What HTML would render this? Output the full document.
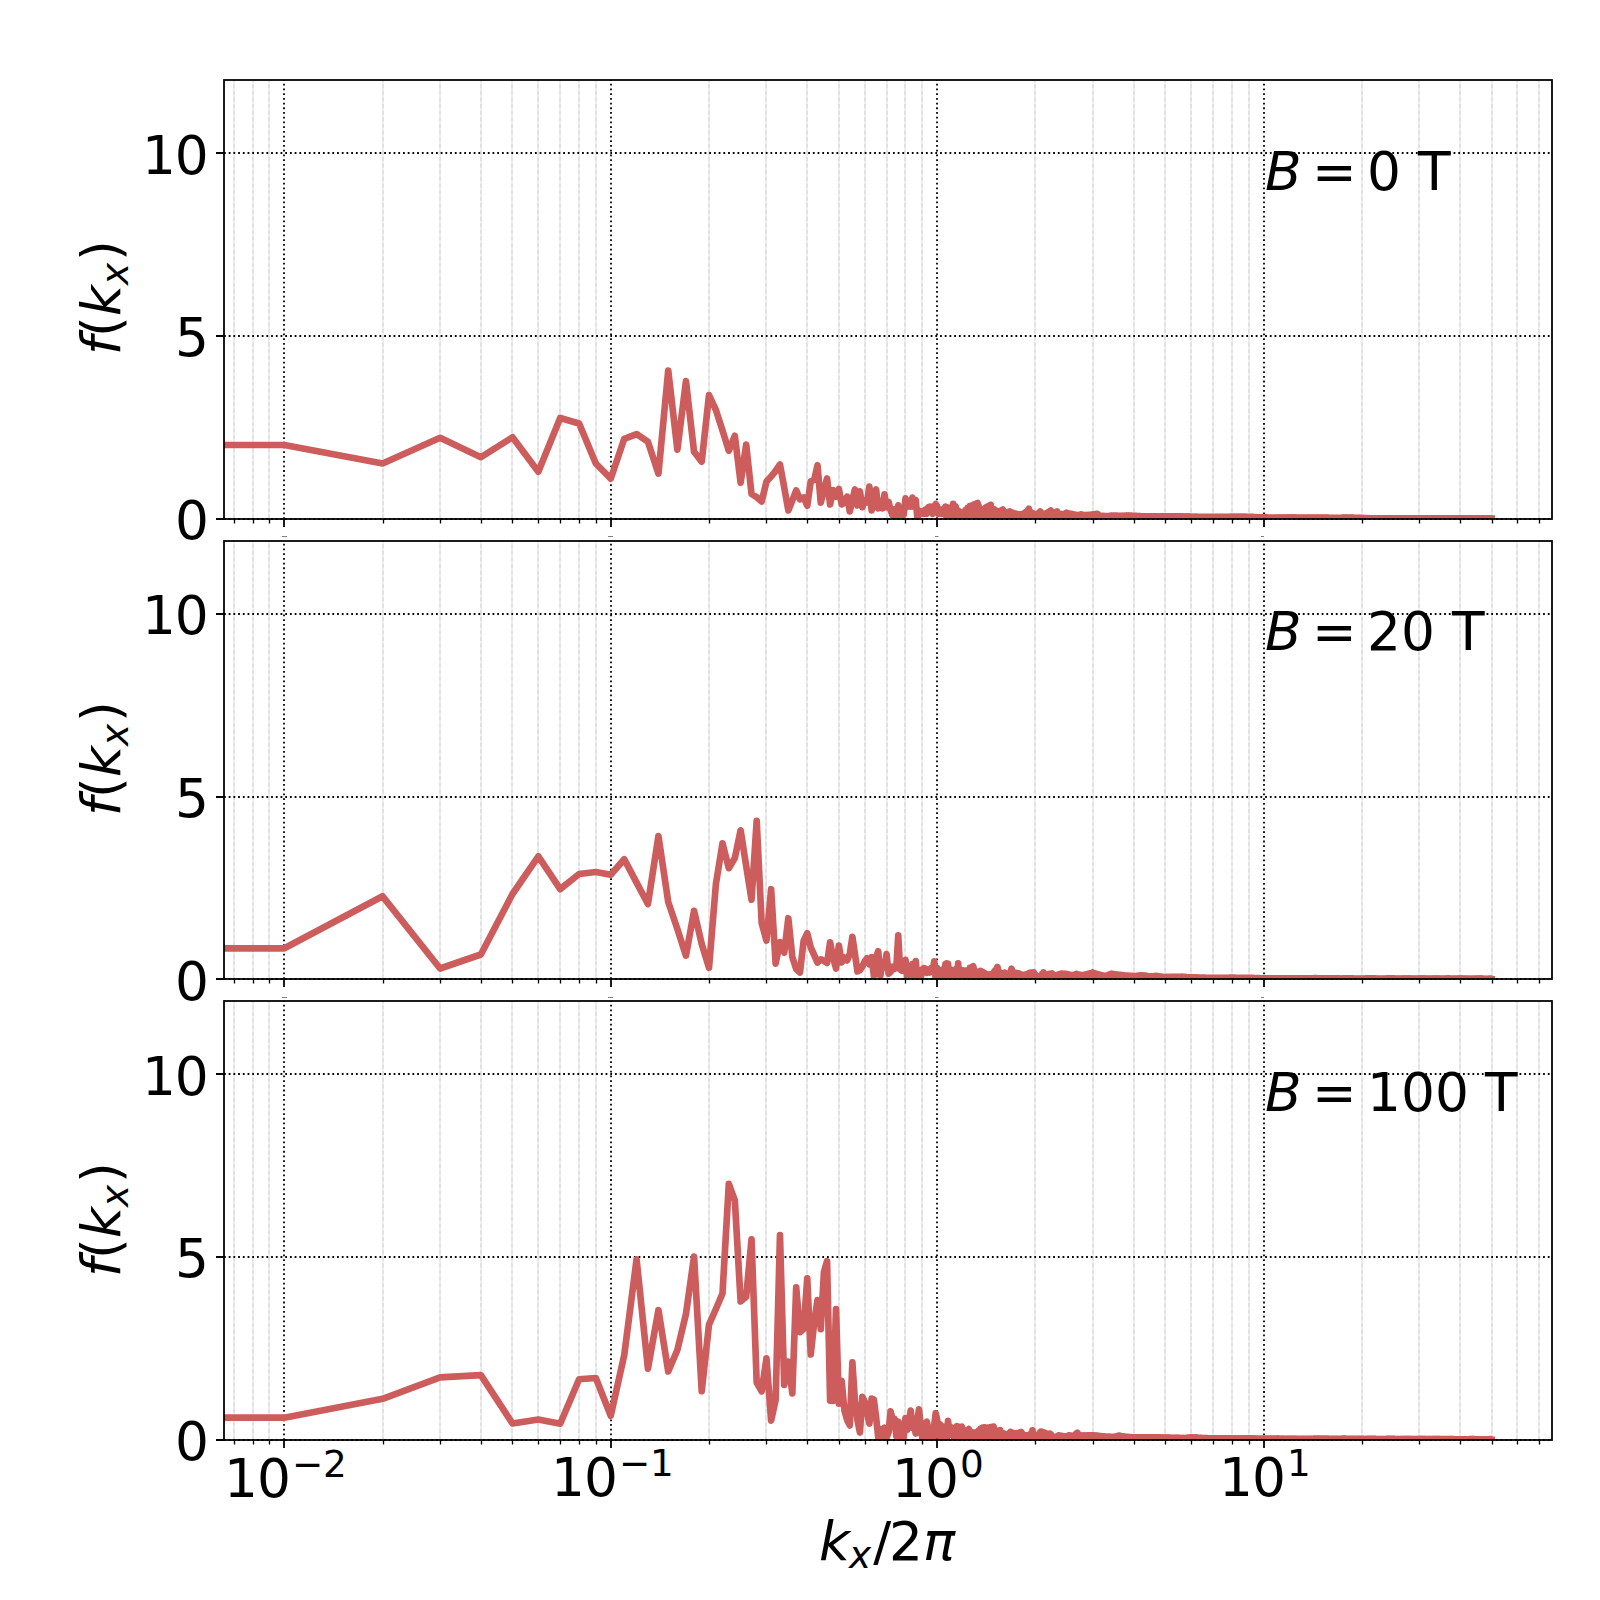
<!DOCTYPE html>
<html lang="en"><head><meta charset="utf-8"><title>f(k_x) spectra</title>
<style>
html,body{margin:0;padding:0;background:#fff}
body{width:1600px;height:1600px;overflow:hidden}
svg{display:block}
text{font-family:"DejaVu Sans","Liberation Sans",sans-serif;fill:#000;white-space:pre}
.t{font-size:53.333px}
.s{font-size:37.333px}
.i{font-style:oblique}
.sp{fill:none;stroke:#000;stroke-width:1.778;stroke-linecap:square;stroke-linejoin:miter}
.mj{fill:none;stroke:#000;stroke-width:1.778;stroke-dasharray:1.778 2.933}
.mn{fill:none;stroke:#e0e0e0;stroke-width:1.778;stroke-dasharray:4.1 2.52;stroke-dashoffset:6.2}
.tk{fill:none;stroke:#000;stroke-width:1.778}
.tm{fill:none;stroke:#000;stroke-width:1.333}
.cv{fill:none;stroke:#cd5c5c;stroke-width:6.667;stroke-linejoin:round;stroke-linecap:square}
.tiny{fill:#808080;stroke:none}
.mu{fill:none;stroke:#eeeeee;stroke-width:1.778}
</style></head>
<body>
<svg width="1600" height="1600" viewBox="0 0 1600 1600">
<rect width="1600" height="1600" fill="#fff"/>
<defs>
<clipPath id="c0"><rect x="224" y="80" width="1328" height="438.71"/></clipPath>
<clipPath id="c1"><rect x="224" y="540.65" width="1328" height="438.71"/></clipPath>
<clipPath id="c2"><rect x="224" y="1001.29" width="1328" height="438.71"/></clipPath>
</defs>
<g id="panel0">
<path class="mu" d="M234 519V80M253 519V80M269 519V80M383 519V80M440 519V80M481 519V80M512 519V80M538 519V80M560 519V80M579 519V80M596 519V80M709 519V80M766 519V80M807 519V80M839 519V80M865 519V80M887 519V80M905 519V80M922 519V80M1035 519V80M1093 519V80M1134 519V80M1165 519V80M1191 519V80M1213 519V80M1232 519V80M1249 519V80M1362 519V80M1419 519V80M1460 519V80M1492 519V80M1517 519V80M1539 519V80"/>
<path class="mn" d="M234 519V80M253 519V80M269 519V80M383 519V80M440 519V80M481 519V80M512 519V80M538 519V80M560 519V80M579 519V80M596 519V80M709 519V80M766 519V80M807 519V80M839 519V80M865 519V80M887 519V80M905 519V80M922 519V80M1035 519V80M1093 519V80M1134 519V80M1165 519V80M1191 519V80M1213 519V80M1232 519V80M1249 519V80M1362 519V80M1419 519V80M1460 519V80M1492 519V80M1517 519V80M1539 519V80"/>
<path class="mj" d="M284 519V80M611 519V80M937 519V80M1264 519V80M224 519H1552M224 336H1552M224 153H1552"/>
<path class="tk" d="M284 519V527M611 519V527M937 519V527M1264 519V527M224 519H216M224 336H216M224 153H216"/>
<path class="tm" d="M234.5 519V523.5M253.5 519V523.5M269.5 519V523.5M383.5 519V523.5M440.5 519V523.5M481.5 519V523.5M512.5 519V523.5M538.5 519V523.5M560.5 519V523.5M579.5 519V523.5M596.5 519V523.5M709.5 519V523.5M766.5 519V523.5M807.5 519V523.5M839.5 519V523.5M865.5 519V523.5M887.5 519V523.5M905.5 519V523.5M922.5 519V523.5M1035.5 519V523.5M1093.5 519V523.5M1134.5 519V523.5M1165.5 519V523.5M1191.5 519V523.5M1213.5 519V523.5M1232.5 519V523.5M1249.5 519V523.5M1362.5 519V523.5M1419.5 519V523.5M1460.5 519V523.5M1492.5 519V523.5M1517.5 519V523.5M1539.5 519V523.5"/>
<path class="cv" clip-path="url(#c0)" d="M214 445L284.36 445L382.61 463.5L440.09 437.8L480.86 457.2L512.49 437.3L538.34 471.7L560.19 418L579.11 423.5L595.81 463.5L610.74 478.7L624.25 438.8L636.59 434.1L647.93 441.8L658.44 473.7L668.22 370.5L677.37 449.6L685.96 381.1L694.06 451.8L701.72 461.7L708.99 395.1L715.91 410L722.5 430.5L728.81 450.7L734.84 435.8L740.62 482.7L746.18 444.5L751.53 494L756.69 497.2L761.66 501.5L766.47 481.6L771.12 476.6L775.62 470.9L779.98 464.5L784.21 487.4L788.32 510.4L792.31 500.4L796.19 490.4L799.97 499.4L803.66 497.4L807.25 505.7L810.75 481.3L814.16 480L817.5 465.2L820.76 502.6L823.94 490.6L827.06 478.4L830.1 504.5L833.09 490.1L836.01 496.7L838.87 488.9L841.68 504.4L844.43 502.5L847.13 496.6L849.78 511.4L852.38 500L854.94 489.4L857.45 505.4L859.91 491.4L862.34 507.2L864.72 500.9L867.06 502.2L869.37 486.6L871.63 510.4L873.87 498L876.06 489.4L878.23 508.4L880.36 501.4L882.46 508.4L884.53 494.3L886.57 507.3L888.58 501.9L890.56 510L892.52 515.5L894.44 509.5L896.35 515.5L898.23 505.4L900.08 515L901.91 508L903.71 515L905.5 498.4L907.26 506.65L909 501L910.71 506.65L912.41 497.6L914.09 506.65L915.75 500L917.39 518L919.01 510.85L920.61 513.58L922.19 511.32L923.76 513.64L925.31 509.8L926.84 513.7L928.35 507.1L929.85 506.58L931.34 506.73L932.81 513.82L934.26 506.33L935.7 504.08L937.13 506.2L938.54 513.87L939.93 509.66L941.32 513.87L942.68 509.38L944.04 513.87L945.38 506.58L946.72 518.66L948.03 507.44L949.34 518.66L950.63 507.57L951.92 518.66L953.19 503.83L954.45 518.66L955.7 506.31L956.94 518.66L958.16 510.19L959.38 518.66L960.59 512.46L961.78 518.66L962.97 512.24L964.14 518.66L965.31 510.3L966.47 518.66L967.62 507.87L968.75 518.66L969.88 506.18L971 518.66L972.12 505.24L973.22 518.66L974.31 504.34L975.4 518.66L976.48 503.45L977.55 503.03L978.61 506.15L979.66 518.66L980.71 509.13L981.75 518.66L982.78 509.5L983.8 518.66L984.82 508.45L985.83 518.66L986.83 506.81L987.82 518.66L988.81 505.91L989.79 518.66L990.77 504.93L991.73 518.66L992.7 508.62L993.65 518.66L994.6 509.31L995.54 518.66L996.48 510.91L997.4 518.66L998.33 511.41L999.25 518.66L1000.16 510.91L1001.06 518.66L1001.96 510.12L1002.86 509.53L1003.75 511.61L1004.63 518.66L1005.51 512.53L1006.38 518.66L1007.25 512.38L1008.11 518.66L1008.96 511.76L1009.82 511.43L1010.66 512.03L1011.5 518.66L1012.34 512.61L1013.17 518.66L1014 513.16L1014.82 518.66L1015.64 513.64L1016.45 518.66L1017.26 514.12L1018.06 518.66L1018.86 514.29L1019.65 518.66L1020.44 514.4L1021.23 518.66L1022.01 514.31L1022.78 518.66L1023.56 513.54L1024.32 518.66L1025.09 512.67L1025.85 518.66L1026.61 511.52L1027.36 518.66L1028.11 509.96L1028.85 508.63L1029.59 511.1L1030.33 518.66L1031.06 512.07L1031.79 518.66L1032.51 512.83L1033.23 518.66L1033.95 513.59L1034.67 518.66L1035.38 514.17L1036.08 518.66L1036.79 514.14L1037.49 518.66L1038.18 513.44L1038.88 518.66L1039.57 512.21L1040.25 511.43L1040.93 512.44L1041.61 518.66L1042.29 513.24L1042.96 518.66L1043.63 513.84L1044.3 518.66L1044.97 513.88L1045.63 518.66L1046.28 513.37L1046.94 518.66L1047.59 512.65L1048.24 518.66L1048.89 511.94L1049.53 518.66L1050.17 511.07L1050.81 510.53L1051.44 511.5L1052.07 518.66L1052.7 512.27L1053.33 518.66L1053.95 512.66L1054.57 518.66L1055.19 512.56L1055.8 518.66L1056.41 511.92L1057.02 511.43L1057.63 512.54L1058.23 518.66L1058.84 513.43L1059.44 518.66L1060.03 513.88L1060.63 518.66L1061.22 514.03L1061.81 518.66L1062.4 514.17L1062.98 518.66L1063.56 514.2L1064.14 518.66L1064.72 513.82L1065.29 518.66L1065.87 513.12L1066.44 512.73L1067.01 513.01L1067.57 518.66L1068.13 513.28L1068.7 518.66L1069.26 513.55L1069.81 518.66L1070.37 513.73L1070.92 518.66L1071.47 513.91L1072.02 518.66L1072.56 514.09L1073.11 518.66L1073.65 514.3L1074.19 518.66L1074.73 514.54L1075.26 518.66L1075.8 514.79L1076.33 518.66L1076.86 515.03L1077.39 518.66L1077.91 515.23L1078.44 518.66L1078.96 515.12L1079.48 518.66L1080 514.79L1080.51 518.66L1081.03 514.23L1081.54 518.66L1082.05 514.65L1082.56 518.66L1083.07 514.97L1083.57 518.66L1084.08 515.22L1084.58 518.66L1085.08 515.2L1085.58 518.66L1086.07 515.14L1086.57 518.66L1087.06 515.08L1087.55 518.66L1088.04 515.02L1088.53 518.66L1089.02 514.96L1089.5 518.66L1089.98 514.89L1090.47 518.66L1090.95 514.77L1091.42 518.66L1091.9 514.65L1092.38 518.66L1092.85 514.53L1093.32 518.66L1093.79 514.42L1094.26 518.66L1094.73 514.3L1095.19 518.66L1095.66 514.19L1096.12 518.66L1096.58 514.07L1097.04 518.66L1097.5 513.93L1097.95 518.66L1098.41 514.78L1098.86 518.66L1099.31 515.26L1099.76 518.66L1100.21 515.66L1101.11 515.83L1101.55 518.66L1102.44 518.66L1102.88 515.91L1103.76 515.95L1104.19 518.66L1105.06 518.66L1105.5 516.02L1106.36 516.06L1106.79 518.66L1107.64 518.66L1108.07 516.13L1109.33 518.66L1109.75 515.87L1110.17 518.66L1110.59 515.71L1111.42 515.53L1111.83 518.66L1112.66 518.66L1113.07 515.59L1113.89 515.62L1114.29 518.66L1115.1 518.66L1115.51 515.67L1116.31 515.7L1116.71 518.66L1117.51 518.66L1117.9 515.75L1118.69 515.77L1119.08 518.66L1119.87 518.66L1120.26 515.82L1121.42 518.66L1121.81 515.8L1122.19 518.66L1122.58 515.78L1123.72 518.66L1124.1 515.74L1124.48 518.66L1124.86 515.72L1125.98 518.66L1126.36 515.68L1126.73 518.66L1127.1 515.66L1128.21 518.66L1128.58 515.62L1128.94 518.66L1129.31 515.6L1130.04 515.58L1130.4 518.66L1131.12 518.66L1131.48 515.67L1132.2 515.71L1132.56 518.66L1133.27 518.66L1133.63 515.79L1134.33 515.83L1134.69 518.66L1135.39 518.66L1135.74 515.91L1136.43 515.95L1136.78 518.66L1137.47 518.66L1137.82 516.03L1138.5 516.07L1138.84 518.66L1139.53 518.66L1139.87 516.15L1140.54 516.19L1140.88 518.66L1141.55 518.66L1141.89 516.26L1142.55 516.3L1142.88 518.66L1143.55 518.66L1143.88 516.37L1144.53 516.41L1144.86 518.66L1145.52 518.66L1145.84 516.43L1146.49 516.43L1146.81 518.66L1147.46 518.66L1147.78 516.43L1148.42 516.43L1148.74 518.66L1149.37 518.66L1149.69 516.43L1150.32 516.43L1150.64 518.66L1151.26 518.66L1151.58 516.43L1152.2 516.43L1152.51 518.66L1153.13 518.66L1153.44 516.43L1154.05 516.43L1154.36 518.66L1154.97 518.66L1155.27 516.43L1155.88 516.43L1156.18 518.66L1156.79 518.66L1157.09 516.43L1157.98 518.66L1158.28 516.43L1159.17 518.66L1159.47 516.43L1160.35 518.66L1160.65 516.43L1161.52 518.66L1161.81 516.43L1162.68 518.66L1162.97 516.43L1163.83 518.66L1164.12 516.43L1164.97 518.66L1165.26 516.43L1166.1 518.66L1166.39 516.43L1167.23 518.66L1167.51 516.43L1168.34 518.66L1168.62 516.43L1169.45 518.66L1169.72 516.43L1170.54 518.66L1170.81 516.43L1171.63 518.66L1171.9 516.43L1172.71 518.66L1172.98 516.43L1173.78 518.66L1174.05 516.43L1174.85 518.66L1175.11 516.43L1175.9 518.66L1176.16 516.43L1176.95 518.66L1177.21 516.43L1177.99 518.66L1178.25 516.43L1179.02 518.66L1179.28 516.43L1180.05 518.66L1180.3 516.43L1181.07 518.66L1181.32 516.43L1182.08 518.66L1182.33 516.44L1183.08 518.66L1183.33 516.48L1184.08 518.66L1184.32 516.51L1185.07 518.66L1185.31 516.54L1186.05 518.66L1186.29 516.57L1187.02 518.66L1187.27 516.6L1187.99 518.66L1188.24 516.63L1188.96 518.66L1189.2 516.66L1189.91 518.66L1190.15 516.69L1190.86 518.66L1191.1 516.71L1191.81 518.66L1192.04 516.74L1192.74 518.66L1192.98 516.77L1193.67 518.66L1193.91 516.8L1194.6 518.66L1194.83 516.83L1195.52 518.66L1195.75 516.83L1196.43 518.66L1196.66 516.83L1197.34 518.66L1197.56 516.83L1198.24 518.66L1198.46 516.83L1199.36 516.83L1199.58 518.66L1200.47 518.66L1200.69 516.83L1201.57 516.83L1201.79 518.66L1202.66 518.66L1202.88 516.83L1203.75 516.83L1203.96 518.66L1204.82 518.66L1205.04 516.83L1205.89 516.83L1206.1 518.66L1206.95 518.66L1207.16 516.83L1208 516.83L1208.21 518.66L1209.05 518.66L1209.26 516.83L1210.09 516.83L1210.29 518.66L1211.11 518.66L1211.32 516.83L1212.14 516.83L1212.34 518.66L1213.15 518.66L1213.35 516.83L1214.16 516.83L1214.36 518.66L1215.16 518.66L1215.36 516.83L1216.15 516.83L1216.35 518.66L1217.14 518.66L1217.34 516.83L1218.12 516.83L1218.31 518.66L1219.09 518.66L1219.29 516.83L1220.06 516.83L1220.25 518.66L1221.02 518.66L1221.21 516.83L1221.97 516.83L1222.16 518.66L1222.92 518.66L1223.11 516.83L1223.86 516.83L1224.05 518.66L1224.79 518.66L1224.98 516.83L1225.72 516.83L1225.91 518.66L1226.64 518.66L1226.83 516.83L1227.56 516.83L1227.74 518.66L1228.47 518.66L1228.65 516.83L1229.37 516.83L1229.55 518.66L1230.45 516.83L1230.63 518.66L1231.52 516.83L1231.7 518.66L1232.58 516.83L1232.76 518.66L1233.64 516.83L1233.81 518.66L1234.68 516.83L1234.86 518.66L1235.72 516.83L1235.89 518.66L1236.75 516.83L1236.92 518.66L1237.78 516.83L1237.95 518.66L1238.79 516.83L1238.96 518.66L1239.8 516.83L1239.97 518.66L1240.8 516.83L1240.97 518.66L1241.8 516.83L1241.96 518.66L1242.79 516.83L1242.95 518.66L1243.77 516.83L1243.93 518.66L1244.74 516.83L1244.9 518.66L1245.71 516.86L1245.87 518.66L1246.67 516.89L1246.83 518.66L1247.62 516.92L1247.78 518.66L1248.57 516.95L1248.73 518.66L1249.51 516.98L1249.67 518.66L1250.45 517.01L1250.6 518.66L1251.38 517.04L1251.53 518.66L1252.3 517.07L1252.46 518.66L1253.22 517.09L1253.37 518.66L1254.13 517.12L1254.28 518.66L1255.04 517.15L1255.19 518.66L1256.09 518.66L1256.24 517.19L1257.13 517.22L1257.28 518.66L1258.16 518.66L1258.31 517.26L1259.19 517.28L1259.33 518.66L1260.21 518.66L1260.35 517.32L1261.22 517.35L1261.36 518.66L1262.22 518.66L1262.37 517.38L1263.22 517.41L1263.36 518.66L1264.21 518.66L1264.35 517.44L1265.2 517.44L1265.34 518.66L1266.17 518.66L1266.31 517.45L1267.14 517.45L1267.28 518.66L1268.11 518.66L1268.25 517.46L1269.07 517.46L1269.2 518.66L1270.02 518.66L1270.15 517.47L1270.96 517.47L1271.1 518.66L1271.9 518.66L1272.03 517.48L1272.83 517.48L1272.96 518.66L1273.76 518.66L1273.89 517.49L1274.68 517.49L1274.81 518.66L1275.59 518.66L1275.72 517.5L1276.5 517.5L1276.63 518.66L1277.4 518.66L1277.53 517.51L1278.43 518.66L1278.55 517.51L1279.44 518.66L1279.57 517.52L1280.45 518.66L1280.58 517.52L1281.46 518.66L1281.58 517.53L1282.45 518.66L1282.58 517.53L1283.44 518.66L1283.56 517.54L1284.42 518.66L1284.54 517.54L1285.4 518.66L1285.52 517.55L1286.36 518.66L1286.49 517.55L1287.33 518.66L1287.45 517.56L1288.28 518.66L1288.4 517.56L1289.23 518.66L1289.35 517.57L1290.17 518.66L1290.29 517.57L1291.11 518.66L1291.23 517.58L1292.04 518.66L1292.16 517.58L1292.96 518.66L1293.08 517.59L1293.88 518.66L1294 517.59L1294.79 518.66L1294.91 517.6L1295.7 518.66L1295.81 517.6L1296.6 518.66L1296.71 517.61L1297.61 517.61L1297.72 518.66L1298.61 518.66L1298.72 517.62L1299.6 517.62L1299.71 518.66L1300.59 518.66L1300.69 517.63L1301.56 517.63L1301.67 518.66L1302.54 518.66L1302.64 517.64L1303.5 517.64L1303.61 518.66L1304.46 518.66L1304.57 517.65L1305.41 517.66L1305.52 518.66L1306.36 518.66L1306.46 517.66L1307.3 517.67L1307.4 518.66L1308.23 518.66L1308.34 517.67L1309.16 517.68L1309.26 518.66L1310.08 518.66L1310.18 517.68L1311 517.69L1311.1 518.66L1311.91 518.66L1312.01 517.69L1312.81 517.69L1312.91 518.66L1313.81 517.7L1313.91 518.66L1314.8 517.71L1314.9 518.66L1315.78 517.71L1315.88 518.66L1316.76 517.72L1316.86 518.66L1317.73 517.72L1317.83 518.66L1318.69 517.73L1318.79 518.66L1319.65 517.73L1319.74 518.66L1320.6 517.73L1320.7 518.66L1321.54 517.73L1321.64 518.66L1322.48 517.73L1322.58 518.66L1323.41 517.73L1323.51 518.66L1324.34 517.73L1324.43 518.66L1325.26 517.73L1325.35 518.66L1326.17 517.73L1326.27 518.66L1327.08 517.73L1327.17 518.66L1327.98 517.73L1328.07 518.66L1328.97 518.66L1329.06 517.73L1329.95 517.73L1330.04 518.66L1330.92 518.66L1331.01 517.73L1331.89 517.73L1331.98 518.66L1332.85 518.66L1332.93 517.73L1333.8 517.73L1333.89 518.66L1334.75 518.66L1334.83 517.73L1335.69 517.73L1335.77 518.66L1336.62 518.66L1336.7 517.73L1337.55 517.73L1337.63 518.66L1338.47 518.66L1338.55 517.73L1339.39 517.73L1339.47 518.66L1340.3 518.66L1340.38 517.73L1341.2 517.73L1341.28 518.66L1342.18 517.73L1342.26 518.66L1343.15 517.73L1343.23 518.66L1344.12 517.73L1344.2 518.66L1345.08 517.73L1345.16 518.66L1346.03 517.73L1346.11 518.66L1346.98 517.73L1347.06 518.66L1347.92 517.73L1348 518.66L1348.85 517.73L1348.93 518.66L1349.78 517.73L1349.86 518.66L1350.71 517.73L1350.78 518.66L1351.62 517.73L1351.7 518.66L1352.53 517.73L1352.61 518.66L1353.44 517.73L1353.51 518.66L1354.41 518.66L1354.49 517.73L1355.38 517.73L1355.45 518.66L1356.34 518.66L1356.41 517.73L1357.29 517.75L1357.37 518.66L1358.24 518.66L1358.31 517.8L1359.18 517.84L1359.25 518.66L1360.12 518.66L1360.19 517.88L1361.05 517.92L1361.12 518.66L1361.97 518.66L1362.04 517.97L1362.89 518.01L1362.96 518.66L1363.8 518.66L1363.87 518.05L1364.7 518.09L1364.77 518.66L1365.67 518.14L1365.74 518.66L1366.63 518.18L1366.7 518.66L1367.59 518.23L1367.66 518.66L1368.54 518.27L1368.6 518.66L1369.48 518.31L1369.55 518.66L1370.42 518.33L1370.48 518.66L1371.35 518.33L1371.41 518.66L1372.27 518.33L1372.34 518.66L1373.19 518.33L1373.25 518.66L1374.1 518.33L1374.17 518.66L1375.01 518.33L1375.07 518.66L1375.91 518.33L1375.97 518.66L1376.87 518.66L1376.93 518.33L1377.82 518.33L1377.88 518.66L1378.77 518.66L1378.83 518.33L1379.71 518.33L1379.77 518.66L1380.64 518.66L1380.7 518.33L1381.57 518.33L1381.63 518.66L1382.49 518.66L1382.55 518.33L1383.4 518.33L1383.46 518.66L1384.31 518.66L1384.37 518.33L1385.22 518.33L1385.28 518.66L1386.18 518.33L1386.23 518.66L1387.13 518.33L1387.19 518.66L1388.07 518.33L1388.13 518.66L1389.01 518.33L1389.07 518.66L1389.94 518.33L1390 518.66L1390.87 518.33L1390.93 518.66L1391.79 518.33L1391.85 518.66L1392.7 518.33L1392.76 518.66L1393.61 518.33L1393.67 518.66L1394.52 518.33L1394.57 518.66L1395.47 518.66L1395.52 518.33L1396.42 518.33L1396.47 518.66L1397.36 518.66L1397.41 518.33L1398.29 518.33L1398.34 518.66L1399.22 518.66L1399.27 518.33L1400.14 518.33L1400.19 518.66L1401.06 518.66L1401.11 518.33L1401.97 518.33L1402.02 518.66L1402.87 518.66L1402.92 518.33L1403.82 518.66L1403.87 518.33L1404.77 518.66L1404.82 518.33L1405.71 518.66L1405.76 518.33L1406.64 518.66L1406.69 518.33L1407.56 518.66L1407.62 518.33L1408.48 518.66L1408.54 518.33L1409.4 518.66L1409.45 518.33L1410.31 518.66L1410.36 518.33L1411.21 518.66L1411.26 518.33L1412.16 518.33L1412.21 518.66L1413.1 518.66L1413.15 518.33L1414.03 518.33L1414.08 518.66L1414.96 518.66L1415.01 518.33L1415.88 518.33L1415.93 518.66L1416.8 518.66L1416.85 518.33L1417.71 518.33L1417.76 518.66L1418.61 518.66L1418.66 518.33L1419.56 518.66L1419.61 518.33L1420.5 518.66L1420.55 518.33L1421.43 518.66L1421.48 518.33L1422.36 518.66L1422.41 518.33L1423.28 518.66L1423.33 518.33L1424.2 518.66L1424.24 518.33L1425.11 518.66L1425.15 518.33L1426.01 518.66L1426.05 518.33L1426.95 518.33L1427 518.66L1427.89 518.66L1427.93 518.33L1428.82 518.33L1428.86 518.66L1429.74 518.66L1429.79 518.33L1430.66 518.33L1430.71 518.66L1431.57 518.66L1431.62 518.33L1432.48 518.33L1432.52 518.66L1433.38 518.66L1433.42 518.33L1434.32 518.66L1434.36 518.33L1435.25 518.66L1435.29 518.33L1436.18 518.66L1436.22 518.33L1437.1 518.66L1437.14 518.33L1438.01 518.66L1438.05 518.33L1438.92 518.66L1438.96 518.33L1439.82 518.66L1439.86 518.33L1440.75 518.33L1440.8 518.66L1441.69 518.66L1441.73 518.33L1442.61 518.33L1442.65 518.66L1443.53 518.66L1443.57 518.33L1444.44 518.33L1444.48 518.66L1445.35 518.66L1445.39 518.33L1446.25 518.33L1446.29 518.66L1447.18 518.33L1447.22 518.66L1448.11 518.33L1448.15 518.66L1449.03 518.33L1449.07 518.66L1449.95 518.33L1449.99 518.66L1450.86 518.33L1450.9 518.66L1451.76 518.33L1451.8 518.66L1452.7 518.66L1452.74 518.33L1453.63 518.33L1453.67 518.66L1454.55 518.66L1454.59 518.33L1455.47 518.33L1455.51 518.66L1456.38 518.66L1456.42 518.33L1457.29 518.33L1457.32 518.66L1458.19 518.66L1458.22 518.33L1459.12 518.66L1459.15 518.33L1460.04 518.66L1460.08 518.33L1460.96 518.66L1461 518.33L1461.87 518.66L1461.91 518.33L1462.78 518.66L1462.81 518.33L1463.68 518.66L1463.71 518.33L1464.61 518.33L1464.64 518.66L1465.53 518.66L1465.57 518.33L1466.45 518.33L1466.48 518.66L1467.36 518.66L1467.39 518.33L1468.27 518.33L1468.3 518.66L1469.2 518.33L1469.23 518.66L1470.13 518.33L1470.16 518.66L1471.05 518.33L1471.08 518.66L1471.96 518.33L1471.99 518.66L1472.87 518.33L1472.9 518.66L1473.77 518.33L1473.81 518.66L1474.7 518.66L1474.74 518.33L1475.63 518.33L1475.66 518.66L1476.54 518.66L1476.58 518.33L1477.46 518.33L1477.49 518.66L1478.36 518.66L1478.39 518.33L1479.29 518.66L1479.32 518.33L1480.22 518.66L1480.25 518.33L1481.14 518.66L1481.17 518.33L1482.05 518.66L1482.08 518.33L1482.96 518.66L1482.99 518.33L1483.86 518.66L1483.89 518.33L1484.78 518.33L1484.81 518.66L1485.7 518.66L1485.73 518.33L1486.62 518.33L1486.65 518.66L1487.52 518.66L1487.55 518.33L1488.43 518.33L1488.45 518.66L1489.35 518.33L1489.38 518.66L1490.27 518.33L1490.3 518.66L1491.18 518.33L1491.21 518.66L1491.64 518.66"/>
<rect class="sp" x="224" y="80" width="1328" height="439"/>
<rect class="tiny" x="282" y="536" width="5" height="1"/>
<rect class="tiny" x="608" y="536" width="5" height="1"/>
<rect class="tiny" x="935" y="536" width="3.5" height="1"/>
<rect class="tiny" x="1261" y="536" width="3" height="1"/>
</g>
<g id="panel1">
<path class="mu" d="M234 979V541M253 979V541M269 979V541M383 979V541M440 979V541M481 979V541M512 979V541M538 979V541M560 979V541M579 979V541M596 979V541M709 979V541M766 979V541M807 979V541M839 979V541M865 979V541M887 979V541M905 979V541M922 979V541M1035 979V541M1093 979V541M1134 979V541M1165 979V541M1191 979V541M1213 979V541M1232 979V541M1249 979V541M1362 979V541M1419 979V541M1460 979V541M1492 979V541M1517 979V541M1539 979V541"/>
<path class="mn" d="M234 979V541M253 979V541M269 979V541M383 979V541M440 979V541M481 979V541M512 979V541M538 979V541M560 979V541M579 979V541M596 979V541M709 979V541M766 979V541M807 979V541M839 979V541M865 979V541M887 979V541M905 979V541M922 979V541M1035 979V541M1093 979V541M1134 979V541M1165 979V541M1191 979V541M1213 979V541M1232 979V541M1249 979V541M1362 979V541M1419 979V541M1460 979V541M1492 979V541M1517 979V541M1539 979V541"/>
<path class="mj" d="M284 979V541M611 979V541M937 979V541M1264 979V541M224 979H1552M224 797H1552M224 614H1552"/>
<path class="tk" d="M284 979V987M611 979V987M937 979V987M1264 979V987M224 979H216M224 797H216M224 614H216"/>
<path class="tm" d="M234.5 979V983.5M253.5 979V983.5M269.5 979V983.5M383.5 979V983.5M440.5 979V983.5M481.5 979V983.5M512.5 979V983.5M538.5 979V983.5M560.5 979V983.5M579.5 979V983.5M596.5 979V983.5M709.5 979V983.5M766.5 979V983.5M807.5 979V983.5M839.5 979V983.5M865.5 979V983.5M887.5 979V983.5M905.5 979V983.5M922.5 979V983.5M1035.5 979V983.5M1093.5 979V983.5M1134.5 979V983.5M1165.5 979V983.5M1191.5 979V983.5M1213.5 979V983.5M1232.5 979V983.5M1249.5 979V983.5M1362.5 979V983.5M1419.5 979V983.5M1460.5 979V983.5M1492.5 979V983.5M1517.5 979V983.5M1539.5 979V983.5"/>
<path class="cv" clip-path="url(#c1)" d="M214 948.3L284.36 948.3L382.61 896.3L440.09 968.5L480.86 954.5L512.49 894L538.34 856.3L560.19 889.2L579.11 874L595.81 872L610.74 874.7L624.25 859.3L636.59 882.6L647.93 904L658.44 836.1L668.22 902L677.37 929L685.96 955.7L694.06 910.8L701.72 944L708.99 967.9L715.91 884L722.5 843.3L728.81 868.2L734.84 858L740.62 830.3L746.18 866L751.53 899.75L756.69 820.8L761.66 923.1L766.47 940.5L771.12 889.2L775.62 963.6L779.98 942.1L784.21 952.6L788.32 918.2L792.31 956.9L796.19 969L799.97 972.4L803.66 940.6L807.25 933.3L810.75 947.5L814.16 955L817.5 962.6L820.76 959.3L823.94 960.9L827.06 962.9L830.1 942.3L833.09 957.5L836.01 968.5L838.87 945.5L841.68 962.4L844.43 957.6L847.13 960.4L849.78 954L852.38 936.85L854.94 954L857.45 971.4L859.91 970L862.34 966.5L864.72 961.35L867.06 958.35L869.37 964.4L871.63 957.25L873.87 976L876.06 957L878.23 951.25L880.36 976L882.46 962.35L884.53 967.5L886.57 954.1L888.58 973.65L890.56 972L892.52 966.6L894.44 969L896.35 967.5L898.23 935.35L900.08 969.5L901.91 970.65L903.71 967.5L905.5 959.85L907.26 979.3L909 965.83L910.71 979.3L912.41 964.04L914.09 979.3L915.75 961.08L917.39 979.3L919.01 970.21L920.61 979.3L922.19 969.53L923.76 968.08L925.31 968.71L926.84 972.77L928.35 969.83L929.85 972.4L931.34 968.24L932.81 970.19L934.26 961.33L935.7 979.3L937.13 967.79L938.54 979.3L939.93 970.28L941.32 979.3L942.68 969.52L944.04 979.3L945.38 963.94L946.72 963.33L948.03 963.75L949.34 979.3L950.63 969.24L951.92 979.3L953.19 970.45L954.45 979.3L955.7 969.43L956.94 979.3L958.16 963.33L959.38 979.3L960.59 969.86L961.78 979.3L962.97 970.38L964.14 979.3L965.31 970.52L966.47 979.3L967.62 970.39L968.75 979.3L969.88 967.84L971 979.3L972.12 966.86L973.22 966.33L974.31 971.18L975.4 979.3L976.48 972.08L977.55 979.3L978.61 971.61L979.66 979.3L980.71 970.83L981.75 979.3L982.78 971.84L983.8 979.3L984.82 972.93L985.83 979.3L986.83 974.19L987.82 979.3L988.81 974.56L989.79 979.3L990.77 974.25L991.73 979.3L992.7 973.49L993.65 979.3L994.6 971.09L995.54 979.3L996.48 968.85L997.4 967.08L998.33 969.99L999.25 979.3L1000.16 972.63L1001.06 979.3L1001.96 973.32L1002.86 979.3L1003.75 973.06L1004.63 972.73L1005.51 973.35L1006.38 979.3L1007.25 973.92L1008.11 979.3L1008.96 973.59L1009.82 979.3L1010.66 971.64L1011.5 968.63L1012.34 970.95L1013.17 979.3L1014 972.47L1014.82 979.3L1015.64 972.82L1016.45 979.3L1017.26 973.05L1018.06 979.3L1018.86 973.4L1019.65 979.3L1020.44 974.08L1021.23 979.3L1022.01 974.75L1022.78 979.3L1023.56 974.9L1024.32 979.3L1025.09 974.57L1025.85 979.3L1026.61 974.24L1027.36 979.3L1028.11 973.67L1028.85 979.3L1029.59 972.78L1030.33 979.3L1031.06 972.6L1031.79 979.3L1032.51 972.51L1033.23 979.3L1033.95 972.43L1034.67 979.3L1035.38 974.6L1036.08 979.3L1036.79 976.02L1037.49 979.3L1038.18 976.43L1038.88 979.3L1039.57 976.22L1040.25 979.3L1040.93 975.27L1041.61 979.3L1042.29 973.72L1042.96 979.3L1043.63 972.43L1044.3 979.3L1044.97 973.97L1045.63 979.3L1046.28 974.53L1046.94 979.3L1047.59 974.51L1048.24 979.3L1048.89 974.19L1049.53 979.3L1050.17 973.87L1050.81 979.3L1051.44 973.53L1052.07 973.33L1052.7 974.42L1053.33 979.3L1053.95 975.25L1054.57 979.3L1055.19 975.53L1055.8 979.3L1056.41 975.34L1057.02 979.3L1057.63 974.93L1058.23 979.3L1058.84 974.52L1059.44 979.3L1060.03 974.15L1060.63 979.3L1061.22 973.63L1061.81 979.3L1062.4 973.74L1062.98 979.3L1063.56 973.83L1064.14 979.3L1064.72 973.92L1065.29 979.3L1065.87 974.01L1066.44 979.3L1067.01 974.1L1067.57 979.3L1068.13 974.2L1068.7 979.3L1069.26 974.48L1069.81 979.3L1070.37 974.78L1070.92 979.3L1071.47 975.07L1072.02 979.3L1072.56 975.23L1073.11 979.3L1073.65 975.03L1074.19 979.3L1074.73 974.66L1075.26 979.3L1075.8 974.23L1076.33 973.93L1076.86 974.13L1077.39 979.3L1077.91 974.35L1078.44 979.3L1078.96 974.57L1079.48 979.3L1080 974.78L1080.51 979.3L1081.03 975L1081.54 979.3L1082.05 975.2L1082.56 979.3L1083.07 975.18L1083.57 979.3L1084.08 974.93L1084.58 979.3L1085.08 974.67L1085.58 979.3L1086.07 974.41L1086.57 979.3L1087.06 974.16L1087.55 979.3L1088.04 973.9L1088.53 979.3L1089.02 973.62L1089.5 979.3L1089.98 973.33L1090.47 979.3L1090.95 973.05L1091.42 979.3L1091.9 972.74L1092.38 972.43L1092.85 972.63L1093.32 979.3L1093.79 972.97L1094.26 979.3L1094.73 973.25L1095.19 979.3L1095.66 973.53L1096.12 979.3L1096.58 973.8L1097.04 979.3L1097.5 974.04L1097.95 979.3L1098.41 974.27L1098.86 979.3L1099.31 974.5L1099.76 979.3L1100.21 974.73L1101.11 974.95L1101.55 979.3L1102.44 979.3L1102.88 975.4L1103.76 975.62L1104.19 979.3L1105.06 979.3L1105.5 975.8L1106.79 979.3L1107.21 975.27L1107.64 979.3L1108.07 974.99L1109.33 979.3L1109.75 974.42L1110.17 979.3L1110.59 974.12L1111.42 973.73L1111.83 979.3L1112.66 979.3L1113.07 974.01L1113.89 974.12L1114.29 979.3L1115.1 979.3L1115.51 974.34L1116.31 974.45L1116.71 979.3L1117.51 979.3L1117.9 974.65L1118.69 974.74L1119.08 979.3L1119.87 979.3L1120.26 974.92L1121.03 975.01L1121.42 979.3L1122.19 979.3L1122.58 975.18L1123.34 975.27L1123.72 979.3L1124.48 979.3L1124.86 975.45L1125.61 975.53L1125.98 979.3L1126.73 979.3L1127.1 975.64L1127.84 975.68L1128.21 979.3L1128.94 979.3L1129.31 975.76L1130.04 975.81L1130.4 979.3L1131.12 979.3L1131.48 975.89L1132.2 975.93L1132.56 979.3L1133.27 979.3L1133.63 976.01L1134.33 976.05L1134.69 979.3L1135.39 979.3L1135.74 976.02L1136.78 979.3L1137.13 975.86L1137.47 979.3L1137.82 975.79L1138.84 979.3L1139.19 975.63L1139.53 979.3L1139.87 975.55L1140.88 979.3L1141.22 975.4L1141.55 979.3L1141.89 975.32L1142.55 975.25L1142.88 979.3L1143.55 979.3L1143.88 975.5L1144.53 975.6L1144.86 979.3L1145.52 979.3L1145.84 975.81L1146.49 975.91L1146.81 979.3L1147.46 979.3L1147.78 976.12L1148.42 976.22L1148.74 979.3L1149.37 979.3L1149.69 976.42L1150.64 979.3L1150.95 976.39L1151.26 979.3L1151.58 976.36L1152.51 979.3L1152.82 976.31L1153.13 979.3L1153.44 976.28L1154.36 979.3L1154.66 976.22L1154.97 979.3L1155.27 976.19L1156.18 979.3L1156.49 976.13L1156.79 979.3L1157.09 976.11L1157.98 979.3L1158.28 976.22L1159.17 979.3L1159.47 976.38L1160.35 979.3L1160.65 976.53L1161.52 979.3L1161.81 976.69L1162.68 979.3L1162.97 976.84L1163.83 979.3L1164.12 976.99L1164.97 979.3L1165.82 977.07L1166.1 979.3L1166.95 977.06L1167.23 979.3L1168.06 977.04L1168.34 979.3L1169.17 977.02L1169.45 979.3L1170.27 977.01L1170.54 979.3L1171.36 976.99L1171.63 979.3L1172.44 976.98L1172.71 979.3L1173.51 976.96L1173.78 979.3L1174.58 976.95L1174.85 979.3L1175.64 976.93L1175.9 979.3L1176.69 976.92L1176.95 979.3L1177.73 976.9L1177.99 979.3L1178.77 976.89L1179.02 979.3L1179.79 976.87L1180.05 979.3L1180.81 976.86L1181.07 979.3L1181.82 976.84L1182.08 979.3L1182.33 976.84L1183.08 979.3L1183.33 976.91L1184.08 979.3L1184.32 976.99L1185.07 979.3L1185.31 977.07L1186.05 979.3L1186.29 977.15L1187.02 979.3L1187.27 977.23L1187.99 979.3L1188.24 977.3L1188.96 979.3L1189.2 977.38L1189.91 979.3L1190.15 977.44L1190.86 979.3L1191.1 977.45L1191.81 979.3L1192.04 977.47L1192.74 979.3L1192.98 977.48L1193.67 979.3L1193.91 977.5L1194.6 979.3L1194.83 977.52L1195.52 979.3L1195.75 977.53L1196.43 979.3L1196.66 977.55L1197.34 979.3L1197.56 977.56L1198.24 979.3L1198.46 977.58L1199.36 977.59L1199.58 979.3L1200.47 979.3L1200.69 977.62L1201.57 977.63L1201.79 979.3L1202.66 979.3L1202.88 977.65L1203.75 977.67L1203.96 979.3L1204.82 979.3L1205.04 977.69L1205.89 977.71L1206.1 979.3L1206.95 979.3L1207.16 977.73L1208 977.74L1208.21 979.3L1209.05 979.3L1209.26 977.74L1210.09 977.74L1210.29 979.3L1211.11 979.3L1211.32 977.75L1212.14 977.75L1212.34 979.3L1213.15 979.3L1213.35 977.76L1214.16 977.76L1214.36 979.3L1215.16 979.3L1215.36 977.76L1216.15 977.77L1216.35 979.3L1217.14 979.3L1217.34 977.77L1218.12 977.78L1218.31 979.3L1219.09 979.3L1219.29 977.78L1220.06 977.78L1220.25 979.3L1221.02 979.3L1221.21 977.79L1221.97 977.79L1222.16 979.3L1222.92 979.3L1223.11 977.8L1223.86 977.8L1224.05 979.3L1224.79 979.3L1224.98 977.8L1225.72 977.81L1225.91 979.3L1226.64 979.3L1226.83 977.81L1227.56 977.81L1227.74 979.3L1228.47 979.3L1228.65 977.82L1229.37 977.82L1229.55 979.3L1230.45 977.83L1230.63 979.3L1231.52 977.83L1231.7 979.3L1232.58 977.83L1232.76 979.3L1233.64 977.85L1233.81 979.3L1234.68 977.86L1234.86 979.3L1235.72 977.88L1235.89 979.3L1236.75 977.89L1236.92 979.3L1237.78 977.9L1237.95 979.3L1238.79 977.92L1238.96 979.3L1239.8 977.93L1239.97 979.3L1240.8 977.95L1240.97 979.3L1241.8 977.96L1241.96 979.3L1242.79 977.97L1242.95 979.3L1243.77 977.99L1243.93 979.3L1244.74 978L1244.9 979.3L1245.71 978.01L1245.87 979.3L1246.67 978.02L1246.83 979.3L1247.62 978.04L1247.78 979.3L1248.57 978.05L1248.73 979.3L1249.51 978.06L1249.67 979.3L1250.45 978.08L1250.6 979.3L1251.38 978.09L1251.53 979.3L1252.3 978.1L1252.46 979.3L1253.22 978.11L1253.37 979.3L1254.13 978.12L1254.28 979.3L1255.04 978.14L1255.19 979.3L1256.09 979.3L1256.24 978.15L1257.13 978.16L1257.28 979.3L1258.16 979.3L1258.31 978.18L1259.19 978.19L1259.33 979.3L1260.21 979.3L1260.35 978.21L1261.22 978.22L1261.36 979.3L1262.22 979.3L1262.37 978.23L1263.22 978.24L1263.36 979.3L1264.21 979.3L1264.35 978.26L1265.2 978.27L1265.34 979.3L1266.17 979.3L1266.31 978.28L1267.14 978.3L1267.28 979.3L1268.11 979.3L1268.25 978.31L1269.07 978.32L1269.2 979.3L1270.02 979.3L1270.15 978.33L1270.96 978.33L1271.1 979.3L1271.9 979.3L1272.03 978.34L1272.83 978.34L1272.96 979.3L1273.76 979.3L1273.89 978.34L1274.68 978.34L1274.81 979.3L1275.59 979.3L1275.72 978.34L1276.5 978.34L1276.63 979.3L1277.4 979.3L1277.53 978.35L1278.43 979.3L1278.55 978.35L1279.44 979.3L1279.57 978.35L1280.45 979.3L1280.58 978.35L1281.46 979.3L1281.58 978.35L1282.45 979.3L1282.58 978.36L1283.44 979.3L1283.56 978.36L1284.42 979.3L1284.54 978.36L1285.4 979.3L1285.52 978.36L1286.36 979.3L1286.49 978.36L1287.33 979.3L1287.45 978.36L1288.28 979.3L1288.4 978.37L1289.23 979.3L1289.35 978.37L1290.17 979.3L1290.29 978.37L1291.11 979.3L1291.23 978.37L1292.04 979.3L1292.16 978.37L1292.96 979.3L1293.08 978.37L1293.88 979.3L1294 978.38L1294.79 979.3L1294.91 978.38L1295.7 979.3L1295.81 978.38L1296.6 979.3L1296.71 978.38L1297.61 978.38L1297.72 979.3L1298.61 979.3L1298.72 978.38L1299.6 978.38L1299.71 979.3L1300.59 979.3L1300.69 978.39L1301.56 978.39L1301.67 979.3L1302.54 979.3L1302.64 978.39L1303.5 978.39L1303.61 979.3L1304.46 979.3L1304.57 978.39L1305.41 978.39L1305.52 979.3L1306.36 979.3L1306.46 978.4L1307.3 978.4L1307.4 979.3L1308.23 979.3L1308.34 978.4L1309.16 978.4L1309.26 979.3L1310.08 979.3L1310.18 978.4L1311 978.4L1311.1 979.3L1311.91 979.3L1312.01 978.41L1312.81 978.41L1312.91 979.3L1313.81 978.41L1313.91 979.3L1314.8 978.41L1314.9 979.3L1315.78 978.41L1315.88 979.3L1316.76 978.41L1316.86 979.3L1317.73 978.42L1317.83 979.3L1318.69 978.42L1318.79 979.3L1319.65 978.42L1319.74 979.3L1320.6 978.42L1320.7 979.3L1321.54 978.42L1321.64 979.3L1322.48 978.42L1322.58 979.3L1323.41 978.43L1323.51 979.3L1324.34 978.43L1324.43 979.3L1325.26 978.43L1325.35 979.3L1326.17 978.43L1326.27 979.3L1327.08 978.43L1327.17 979.3L1327.98 978.43L1328.07 979.3L1328.97 979.3L1329.06 978.44L1329.95 978.44L1330.04 979.3L1330.92 979.3L1331.01 978.44L1331.89 978.44L1331.98 979.3L1332.85 979.3L1332.93 978.44L1333.8 978.44L1333.89 979.3L1334.75 979.3L1334.83 978.45L1335.69 978.45L1335.77 979.3L1336.62 979.3L1336.7 978.45L1337.55 978.45L1337.63 979.3L1338.47 979.3L1338.55 978.45L1339.39 978.45L1339.47 979.3L1340.3 979.3L1340.38 978.46L1341.2 978.46L1341.28 979.3L1342.18 978.46L1342.26 979.3L1343.15 978.46L1343.23 979.3L1344.12 978.46L1344.2 979.3L1345.08 978.46L1345.16 979.3L1346.03 978.47L1346.11 979.3L1346.98 978.47L1347.06 979.3L1347.92 978.47L1348 979.3L1348.85 978.47L1348.93 979.3L1349.78 978.47L1349.86 979.3L1350.71 978.47L1350.78 979.3L1351.62 978.48L1351.7 979.3L1352.53 978.48L1352.61 979.3L1353.44 978.48L1353.51 979.3L1354.41 979.3L1354.49 978.48L1355.38 978.48L1355.45 979.3L1356.34 979.3L1356.41 978.48L1357.29 978.49L1357.37 979.3L1358.24 979.3L1358.31 978.49L1359.18 978.49L1359.25 979.3L1360.12 979.3L1360.19 978.49L1361.05 978.49L1361.12 979.3L1361.97 979.3L1362.04 978.49L1362.89 978.49L1362.96 979.3L1363.8 979.3L1363.87 978.5L1364.7 978.5L1364.77 979.3L1365.67 978.5L1365.74 979.3L1366.63 978.5L1366.7 979.3L1367.59 978.5L1367.66 979.3L1368.54 978.5L1368.6 979.3L1369.48 978.51L1369.55 979.3L1370.42 978.51L1370.48 979.3L1371.35 978.51L1371.41 979.3L1372.27 978.51L1372.34 979.3L1373.19 978.51L1373.25 979.3L1374.1 978.51L1374.17 979.3L1375.01 978.52L1375.07 979.3L1375.91 978.52L1375.97 979.3L1376.87 979.3L1376.93 978.52L1377.82 978.52L1377.88 979.3L1378.77 979.3L1378.83 978.52L1379.71 978.52L1379.77 979.3L1380.64 979.3L1380.7 978.53L1381.57 978.53L1381.63 979.3L1382.49 979.3L1382.55 978.53L1383.4 978.53L1383.46 979.3L1384.31 979.3L1384.37 978.53L1385.22 978.53L1385.28 979.3L1386.18 978.54L1386.23 979.3L1387.13 978.54L1387.19 979.3L1388.07 978.54L1388.13 979.3L1389.01 978.54L1389.07 979.3L1389.94 978.54L1390 979.3L1390.87 978.54L1390.93 979.3L1391.79 978.55L1391.85 979.3L1392.7 978.55L1392.76 979.3L1393.61 978.55L1393.67 979.3L1394.52 978.55L1394.57 979.3L1395.47 979.3L1395.52 978.55L1396.42 978.55L1396.47 979.3L1397.36 979.3L1397.41 978.55L1398.29 978.56L1398.34 979.3L1399.22 979.3L1399.27 978.56L1400.14 978.56L1400.19 979.3L1401.06 979.3L1401.11 978.56L1401.97 978.56L1402.02 979.3L1402.87 979.3L1402.92 978.56L1403.82 979.3L1403.87 978.57L1404.77 979.3L1404.82 978.57L1405.71 979.3L1405.76 978.57L1406.64 979.3L1406.69 978.57L1407.56 979.3L1407.62 978.57L1408.48 979.3L1408.54 978.57L1409.4 979.3L1409.45 978.58L1410.31 979.3L1410.36 978.58L1411.21 979.3L1411.26 978.58L1412.16 978.58L1412.21 979.3L1413.1 979.3L1413.15 978.58L1414.03 978.58L1414.08 979.3L1414.96 979.3L1415.01 978.59L1415.88 978.59L1415.93 979.3L1416.8 979.3L1416.85 978.59L1417.71 978.59L1417.76 979.3L1418.61 979.3L1418.66 978.59L1419.56 979.3L1419.61 978.59L1420.5 979.3L1420.55 978.6L1421.43 979.3L1421.48 978.6L1422.36 979.3L1422.41 978.6L1423.28 979.3L1423.33 978.6L1424.2 979.3L1424.24 978.6L1425.11 979.3L1425.15 978.6L1426.01 979.3L1426.05 978.6L1426.95 978.61L1427 979.3L1427.89 979.3L1427.93 978.61L1428.82 978.61L1428.86 979.3L1429.74 979.3L1429.79 978.61L1430.66 978.61L1430.71 979.3L1431.57 979.3L1431.62 978.61L1432.48 978.62L1432.52 979.3L1433.38 979.3L1433.42 978.62L1434.32 979.3L1434.36 978.62L1435.25 979.3L1435.29 978.62L1436.18 979.3L1436.22 978.62L1437.1 979.3L1437.14 978.62L1438.01 979.3L1438.05 978.63L1438.92 979.3L1438.96 978.63L1439.82 979.3L1439.86 978.63L1440.75 978.63L1440.8 979.3L1441.69 979.3L1441.73 978.63L1442.61 978.63L1442.65 979.3L1443.53 979.3L1443.57 978.64L1444.44 978.64L1444.48 979.3L1445.35 979.3L1445.39 978.64L1446.25 978.64L1446.29 979.3L1447.18 978.64L1447.22 979.3L1448.11 978.64L1448.15 979.3L1449.03 978.64L1449.07 979.3L1449.95 978.65L1449.99 979.3L1450.86 978.65L1450.9 979.3L1451.76 978.65L1451.8 979.3L1452.7 979.3L1452.74 978.65L1453.63 978.65L1453.67 979.3L1454.55 979.3L1454.59 978.65L1455.47 978.66L1455.51 979.3L1456.38 979.3L1456.42 978.66L1457.29 978.66L1457.32 979.3L1458.19 979.3L1458.22 978.66L1459.12 979.3L1459.15 978.66L1460.04 979.3L1460.08 978.66L1460.96 979.3L1461 978.67L1461.87 979.3L1461.91 978.67L1462.78 979.3L1462.81 978.67L1463.68 979.3L1463.71 978.67L1464.61 978.67L1464.64 979.3L1465.53 979.3L1465.57 978.67L1466.45 978.67L1466.48 979.3L1467.36 979.3L1467.39 978.68L1468.27 978.68L1468.3 979.3L1469.2 978.68L1469.23 979.3L1470.13 978.68L1470.16 979.3L1471.05 978.68L1471.08 979.3L1471.96 978.68L1471.99 979.3L1472.87 978.69L1472.9 979.3L1473.77 978.69L1473.81 979.3L1474.7 979.3L1474.74 978.69L1475.63 978.69L1475.66 979.3L1476.54 979.3L1476.58 978.69L1477.46 978.69L1477.49 979.3L1478.36 979.3L1478.39 978.7L1479.29 979.3L1479.32 978.7L1480.22 979.3L1480.25 978.7L1481.14 979.3L1481.17 978.7L1482.05 979.3L1482.08 978.7L1482.96 979.3L1482.99 978.7L1483.86 979.3L1483.89 978.71L1484.78 978.71L1484.81 979.3L1485.7 979.3L1485.73 978.71L1486.62 978.71L1486.65 979.3L1487.52 979.3L1487.55 978.71L1488.43 978.71L1488.45 979.3L1489.35 978.71L1489.38 979.3L1490.27 978.72L1490.3 979.3L1491.18 978.72L1491.21 979.3L1491.64 979.3"/>
<rect class="sp" x="224" y="541" width="1328" height="438"/>
<rect class="tiny" x="282" y="997" width="5" height="1"/>
<rect class="tiny" x="608" y="997" width="5" height="1"/>
<rect class="tiny" x="935" y="997" width="3.5" height="1"/>
<rect class="tiny" x="1261" y="997" width="3" height="1"/>
</g>
<g id="panel2">
<path class="mu" d="M234 1440V1001M253 1440V1001M269 1440V1001M383 1440V1001M440 1440V1001M481 1440V1001M512 1440V1001M538 1440V1001M560 1440V1001M579 1440V1001M596 1440V1001M709 1440V1001M766 1440V1001M807 1440V1001M839 1440V1001M865 1440V1001M887 1440V1001M905 1440V1001M922 1440V1001M1035 1440V1001M1093 1440V1001M1134 1440V1001M1165 1440V1001M1191 1440V1001M1213 1440V1001M1232 1440V1001M1249 1440V1001M1362 1440V1001M1419 1440V1001M1460 1440V1001M1492 1440V1001M1517 1440V1001M1539 1440V1001"/>
<path class="mn" d="M234 1440V1001M253 1440V1001M269 1440V1001M383 1440V1001M440 1440V1001M481 1440V1001M512 1440V1001M538 1440V1001M560 1440V1001M579 1440V1001M596 1440V1001M709 1440V1001M766 1440V1001M807 1440V1001M839 1440V1001M865 1440V1001M887 1440V1001M905 1440V1001M922 1440V1001M1035 1440V1001M1093 1440V1001M1134 1440V1001M1165 1440V1001M1191 1440V1001M1213 1440V1001M1232 1440V1001M1249 1440V1001M1362 1440V1001M1419 1440V1001M1460 1440V1001M1492 1440V1001M1517 1440V1001M1539 1440V1001"/>
<path class="mj" d="M284 1440V1001M611 1440V1001M937 1440V1001M1264 1440V1001M224 1440H1552M224 1257H1552M224 1074H1552"/>
<path class="tk" d="M284 1440V1448M611 1440V1448M937 1440V1448M1264 1440V1448M224 1440H216M224 1257H216M224 1074H216"/>
<path class="tm" d="M234.5 1440V1444.5M253.5 1440V1444.5M269.5 1440V1444.5M383.5 1440V1444.5M440.5 1440V1444.5M481.5 1440V1444.5M512.5 1440V1444.5M538.5 1440V1444.5M560.5 1440V1444.5M579.5 1440V1444.5M596.5 1440V1444.5M709.5 1440V1444.5M766.5 1440V1444.5M807.5 1440V1444.5M839.5 1440V1444.5M865.5 1440V1444.5M887.5 1440V1444.5M905.5 1440V1444.5M922.5 1440V1444.5M1035.5 1440V1444.5M1093.5 1440V1444.5M1134.5 1440V1444.5M1165.5 1440V1444.5M1191.5 1440V1444.5M1213.5 1440V1444.5M1232.5 1440V1444.5M1249.5 1440V1444.5M1362.5 1440V1444.5M1419.5 1440V1444.5M1460.5 1440V1444.5M1492.5 1440V1444.5M1517.5 1440V1444.5M1539.5 1440V1444.5"/>
<path class="cv" clip-path="url(#c2)" d="M214 1417.7L284.36 1417.7L382.61 1398.8L440.09 1377.3L480.86 1375.1L512.49 1423.5L538.34 1419.5L560.19 1423.7L579.11 1379.3L595.81 1378L610.74 1415.7L624.25 1355L636.59 1259.3L647.93 1368.7L658.44 1310L668.22 1371.5L677.37 1350L685.96 1314L694.06 1256.5L701.72 1391.2L708.99 1324.7L715.91 1309L722.5 1293.5L728.81 1183.8L734.84 1200.5L740.62 1301.5L746.18 1296.8L751.53 1239.25L756.69 1382.5L761.66 1391.3L766.47 1358.3L771.12 1420.6L775.62 1400L779.98 1235.2L784.21 1384.8L788.32 1361.5L792.31 1393.4L796.19 1287.3L799.97 1332.2L803.66 1329L807.25 1278.3L810.75 1354.5L814.16 1323L817.5 1300.1L820.76 1329.2L823.94 1272L827.06 1261.1L830.1 1400.75L833.09 1401L836.01 1309.1L838.87 1403.6L841.68 1380.8L844.43 1410.6L847.13 1420L849.78 1425.4L852.38 1362.4L854.94 1401.25L857.45 1420L859.91 1432.6L862.34 1396.75L864.72 1401.4L867.06 1412.5L869.37 1423.6L871.63 1398.6L873.87 1399.6L876.06 1417L878.23 1437.5L880.36 1429L882.46 1437.5L884.53 1427.7L886.57 1437.5L888.58 1432.5L890.56 1411.4L892.52 1418.75L894.44 1418.75L896.35 1436.25L898.23 1421.6L900.08 1437.5L901.91 1423.75L903.71 1437.5L905.5 1418L907.26 1430L909 1420L910.71 1410.5L912.41 1428L914.09 1425L915.75 1433.6L917.39 1420L919.01 1409.25L920.61 1425L922.19 1437.5L923.76 1439.95L925.31 1423.16L926.84 1421.83L928.35 1428.53L929.85 1439.95L931.34 1429.44L932.81 1439.95L934.26 1425.07L935.7 1413.08L937.13 1419.7L938.54 1435.17L939.93 1424.03L941.32 1439.95L942.68 1426.3L944.04 1439.95L945.38 1426.71L946.72 1439.95L948.03 1420.83L949.34 1431.2L950.63 1427.01L951.92 1435.02L953.19 1428.3L954.45 1439.66L955.7 1427.42L956.94 1426.08L958.16 1426.81L959.38 1439.95L960.59 1426.93L961.78 1426.58L962.97 1429.94L964.14 1439.95L965.31 1430.99L966.47 1439.95L967.62 1430.17L968.75 1429.08L969.88 1431.32L971 1439.95L972.12 1432.33L973.22 1439.95L974.31 1432.53L975.4 1439.95L976.48 1432.24L977.55 1439.95L978.61 1430.52L979.66 1439.95L980.71 1428.5L981.75 1439.95L982.78 1427.57L983.8 1439.95L984.82 1427.33L985.83 1439.95L986.83 1427.76L987.82 1439.95L988.81 1427.59L989.79 1439.95L990.77 1427.01L991.73 1439.95L992.7 1426.75L993.65 1426.58L994.6 1429.88L995.54 1439.95L996.48 1431.05L997.4 1439.95L998.33 1430.94L999.25 1439.95L1000.16 1430.08L1001.06 1439.95L1001.96 1432.27L1002.86 1439.95L1003.75 1433.33L1004.63 1439.95L1005.51 1434.05L1006.38 1439.95L1007.25 1434.17L1008.11 1439.95L1008.96 1433.27L1009.82 1439.95L1010.66 1431.73L1011.5 1439.95L1012.34 1432.58L1013.17 1439.95L1014 1433.18L1014.82 1439.95L1015.64 1433.29L1016.45 1439.95L1017.26 1433.13L1018.06 1439.95L1018.86 1432.95L1019.65 1439.95L1020.44 1432.4L1021.23 1431.93L1022.01 1433.07L1022.78 1439.95L1023.56 1434.63L1024.32 1439.95L1025.09 1435.29L1025.85 1439.95L1026.61 1435.3L1027.36 1439.95L1028.11 1435.24L1028.85 1439.95L1029.59 1434.88L1030.33 1439.95L1031.06 1433.43L1031.79 1439.95L1032.51 1430.23L1033.23 1439.95L1033.95 1434.21L1034.67 1439.95L1035.38 1435.05L1036.08 1439.95L1036.79 1435.14L1037.49 1439.95L1038.18 1434.59L1038.88 1439.95L1039.57 1433.19L1040.25 1439.95L1040.93 1431.58L1041.61 1439.95L1042.29 1431.94L1042.96 1439.95L1043.63 1432.22L1044.3 1439.95L1044.97 1432.74L1045.63 1439.95L1046.28 1433.34L1046.94 1439.95L1047.59 1433.79L1048.24 1439.95L1048.89 1433.77L1049.53 1439.95L1050.17 1433.63L1050.81 1439.95L1051.44 1434.86L1052.07 1439.95L1052.7 1435.92L1053.33 1439.95L1053.95 1436.8L1054.57 1439.95L1055.19 1437.08L1055.8 1439.95L1056.41 1436.89L1057.02 1439.95L1057.63 1436.21L1058.23 1439.95L1058.84 1435.33L1059.44 1439.95L1060.03 1435.63L1060.63 1439.95L1061.22 1435.85L1061.81 1439.95L1062.4 1436.04L1062.98 1439.95L1063.56 1436.17L1064.14 1439.95L1064.72 1436.29L1065.29 1439.95L1065.87 1436.41L1066.44 1439.95L1067.01 1436.33L1067.57 1439.95L1068.13 1435.86L1068.7 1435.33L1069.26 1435.43L1069.81 1439.95L1070.37 1435.58L1070.92 1439.95L1071.47 1435.73L1072.02 1439.95L1072.56 1435.83L1073.11 1439.95L1073.65 1435.63L1074.19 1439.95L1074.73 1434.98L1075.26 1439.95L1075.8 1434.04L1076.33 1439.95L1076.86 1433.1L1077.39 1432.73L1077.91 1434.17L1078.44 1439.95L1078.96 1435.1L1079.48 1439.95L1080 1435.48L1080.51 1439.95L1081.03 1435.54L1081.54 1439.95L1082.05 1435.55L1082.56 1439.95L1083.07 1435.56L1083.57 1439.95L1084.08 1435.57L1084.58 1439.95L1085.08 1435.58L1085.58 1439.95L1086.07 1435.54L1086.57 1439.95L1087.06 1435.49L1087.55 1439.95L1088.04 1435.44L1088.53 1439.95L1089.02 1435.4L1089.5 1439.95L1089.98 1435.35L1090.47 1439.95L1090.95 1435.31L1091.42 1439.95L1091.9 1435.26L1092.38 1435.23L1092.85 1435.29L1093.32 1439.95L1093.79 1435.39L1094.26 1439.95L1094.73 1435.49L1095.19 1439.95L1095.66 1435.59L1096.12 1439.95L1096.58 1435.69L1097.04 1439.95L1097.5 1435.78L1097.95 1439.95L1098.41 1435.88L1098.86 1439.95L1099.31 1435.98L1099.76 1439.95L1100.21 1436.07L1101.11 1436.17L1101.55 1439.95L1102.44 1439.95L1102.88 1436.36L1103.76 1436.44L1104.19 1439.95L1105.06 1439.95L1105.5 1436.51L1106.36 1436.54L1106.79 1439.95L1107.64 1439.95L1108.07 1436.61L1108.91 1436.64L1109.33 1439.95L1110.17 1439.95L1110.59 1436.71L1111.42 1436.74L1111.83 1439.95L1112.66 1439.95L1113.07 1436.81L1114.29 1439.95L1114.7 1436.7L1115.1 1439.95L1115.51 1436.5L1116.71 1439.95L1117.11 1436.1L1117.51 1439.95L1117.9 1435.9L1118.69 1435.58L1119.08 1439.95L1119.87 1439.95L1120.26 1435.88L1121.03 1436.01L1121.42 1439.95L1122.19 1439.95L1122.58 1436.27L1123.34 1436.39L1123.72 1439.95L1124.48 1439.95L1124.86 1436.65L1125.61 1436.77L1125.98 1439.95L1126.73 1439.95L1127.1 1436.9L1127.84 1436.95L1128.21 1439.95L1128.94 1439.95L1129.31 1437.05L1130.04 1437.1L1130.4 1439.95L1131.12 1439.95L1131.48 1437.2L1132.2 1437.25L1132.56 1439.95L1133.27 1439.95L1133.63 1437.35L1134.33 1437.4L1134.69 1439.95L1135.39 1439.95L1135.74 1437.43L1136.43 1437.43L1136.78 1439.95L1137.47 1439.95L1137.82 1437.43L1138.5 1437.43L1138.84 1439.95L1139.53 1439.95L1139.87 1437.43L1140.54 1437.43L1140.88 1439.95L1141.55 1439.95L1141.89 1437.43L1142.55 1437.43L1142.88 1439.95L1143.55 1439.95L1143.88 1437.43L1144.53 1437.43L1144.86 1439.95L1145.52 1439.95L1145.84 1437.43L1146.49 1437.43L1146.81 1439.95L1147.46 1439.95L1147.78 1437.43L1148.42 1437.43L1148.74 1439.95L1149.37 1439.95L1149.69 1437.43L1150.32 1437.43L1150.64 1439.95L1151.26 1439.95L1151.58 1437.43L1152.2 1437.43L1152.51 1439.95L1153.13 1439.95L1153.44 1437.43L1154.05 1437.43L1154.36 1439.95L1154.97 1439.95L1155.27 1437.43L1155.88 1437.43L1156.18 1439.95L1156.79 1439.95L1157.09 1437.43L1157.98 1439.95L1158.28 1437.43L1159.17 1439.95L1159.47 1437.43L1160.35 1439.95L1160.65 1437.45L1161.52 1439.95L1161.81 1437.48L1162.68 1439.95L1162.97 1437.51L1163.83 1439.95L1164.12 1437.54L1164.97 1439.95L1165.26 1437.57L1166.1 1439.95L1166.39 1437.6L1167.23 1439.95L1167.51 1437.63L1168.34 1439.95L1168.62 1437.66L1169.45 1439.95L1169.72 1437.69L1170.54 1439.95L1170.81 1437.72L1171.63 1439.95L1171.9 1437.74L1172.71 1439.95L1172.98 1437.77L1173.78 1439.95L1174.05 1437.8L1174.85 1439.95L1175.11 1437.83L1175.9 1439.95L1176.16 1437.85L1176.95 1439.95L1177.21 1437.88L1177.99 1439.95L1178.25 1437.91L1179.02 1439.95L1179.28 1437.94L1180.05 1439.95L1180.3 1437.96L1181.07 1439.95L1181.32 1437.99L1182.08 1439.95L1182.33 1438.01L1183.08 1439.95L1183.33 1438.04L1184.08 1439.95L1184.32 1438.07L1185.07 1439.95L1185.8 1438.03L1186.05 1439.95L1186.78 1437.94L1187.02 1439.95L1187.75 1437.86L1187.99 1439.95L1188.72 1437.77L1188.96 1439.95L1189.67 1437.69L1189.91 1439.95L1190.63 1437.61L1190.86 1439.95L1191.57 1437.53L1191.81 1439.95L1192.51 1437.43L1192.74 1439.95L1192.98 1437.46L1193.67 1439.95L1193.91 1437.51L1194.6 1439.95L1194.83 1437.56L1195.52 1439.95L1195.75 1437.61L1196.43 1439.95L1196.66 1437.66L1197.34 1439.95L1197.56 1437.71L1198.24 1439.95L1198.46 1437.76L1199.36 1437.8L1199.58 1439.95L1200.47 1439.95L1200.69 1437.87L1201.57 1437.92L1201.79 1439.95L1202.66 1439.95L1202.88 1437.98L1203.75 1438.02L1203.96 1439.95L1204.82 1439.95L1205.04 1438.09L1205.89 1438.13L1206.1 1439.95L1206.95 1439.95L1207.16 1438.2L1208 1438.24L1208.21 1439.95L1209.05 1439.95L1209.26 1438.3L1210.09 1438.33L1210.29 1439.95L1211.11 1439.95L1211.32 1438.34L1212.14 1438.34L1212.34 1439.95L1213.15 1439.95L1213.35 1438.35L1214.16 1438.35L1214.36 1439.95L1215.16 1439.95L1215.36 1438.36L1216.15 1438.36L1216.35 1439.95L1217.14 1439.95L1217.34 1438.37L1218.12 1438.37L1218.31 1439.95L1219.09 1439.95L1219.29 1438.38L1220.06 1438.38L1220.25 1439.95L1221.02 1439.95L1221.21 1438.39L1221.97 1438.39L1222.16 1439.95L1222.92 1439.95L1223.11 1438.4L1223.86 1438.4L1224.05 1439.95L1224.79 1439.95L1224.98 1438.41L1225.72 1438.41L1225.91 1439.95L1226.64 1439.95L1226.83 1438.42L1227.56 1438.42L1227.74 1439.95L1228.47 1439.95L1228.65 1438.43L1229.37 1438.43L1229.55 1439.95L1230.45 1438.44L1230.63 1439.95L1231.52 1438.44L1231.7 1439.95L1232.58 1438.45L1232.76 1439.95L1233.64 1438.45L1233.81 1439.95L1234.68 1438.46L1234.86 1439.95L1235.72 1438.46L1235.89 1439.95L1236.75 1438.47L1236.92 1439.95L1237.78 1438.47L1237.95 1439.95L1238.79 1438.48L1238.96 1439.95L1239.8 1438.48L1239.97 1439.95L1240.8 1438.49L1240.97 1439.95L1241.8 1438.49L1241.96 1439.95L1242.79 1438.5L1242.95 1439.95L1243.77 1438.5L1243.93 1439.95L1244.74 1438.51L1244.9 1439.95L1245.71 1438.51L1245.87 1439.95L1246.67 1438.52L1246.83 1439.95L1247.62 1438.52L1247.78 1439.95L1248.57 1438.53L1248.73 1439.95L1249.51 1438.53L1249.67 1439.95L1250.45 1438.54L1250.6 1439.95L1251.38 1438.54L1251.53 1439.95L1252.3 1438.54L1252.46 1439.95L1253.22 1438.55L1253.37 1439.95L1254.13 1438.55L1254.28 1439.95L1255.04 1438.56L1255.19 1439.95L1256.09 1439.95L1256.24 1438.56L1257.13 1438.57L1257.28 1439.95L1258.16 1439.95L1258.31 1438.57L1259.19 1438.58L1259.33 1439.95L1260.21 1439.95L1260.35 1438.59L1261.22 1438.59L1261.36 1439.95L1262.22 1439.95L1262.37 1438.6L1263.22 1438.6L1263.36 1439.95L1264.21 1439.95L1264.35 1438.61L1265.2 1438.61L1265.34 1439.95L1266.17 1439.95L1266.31 1438.62L1267.14 1438.63L1267.28 1439.95L1268.11 1439.95L1268.25 1438.63L1269.07 1438.64L1269.2 1439.95L1270.02 1439.95L1270.15 1438.64L1270.96 1438.65L1271.1 1439.95L1271.9 1439.95L1272.03 1438.66L1272.83 1438.66L1272.96 1439.95L1273.76 1439.95L1273.89 1438.67L1274.68 1438.67L1274.81 1439.95L1275.59 1439.95L1275.72 1438.68L1276.5 1438.68L1276.63 1439.95L1277.4 1439.95L1277.53 1438.69L1278.43 1439.95L1278.55 1438.69L1279.44 1439.95L1279.57 1438.7L1280.45 1439.95L1280.58 1438.71L1281.46 1439.95L1281.58 1438.71L1282.45 1439.95L1282.58 1438.72L1283.44 1439.95L1283.56 1438.72L1284.42 1439.95L1284.54 1438.73L1285.4 1439.95L1285.52 1438.73L1286.36 1439.95L1286.49 1438.74L1287.33 1439.95L1287.45 1438.74L1288.28 1439.95L1288.4 1438.74L1289.23 1439.95L1289.35 1438.75L1290.17 1439.95L1290.29 1438.75L1291.11 1439.95L1291.23 1438.75L1292.04 1439.95L1292.16 1438.75L1292.96 1439.95L1293.08 1438.76L1293.88 1439.95L1294 1438.76L1294.79 1439.95L1294.91 1438.76L1295.7 1439.95L1295.81 1438.76L1296.6 1439.95L1296.71 1438.77L1297.61 1438.77L1297.72 1439.95L1298.61 1439.95L1298.72 1438.77L1299.6 1438.77L1299.71 1439.95L1300.59 1439.95L1300.69 1438.78L1301.56 1438.78L1301.67 1439.95L1302.54 1439.95L1302.64 1438.78L1303.5 1438.78L1303.61 1439.95L1304.46 1439.95L1304.57 1438.79L1305.41 1438.79L1305.52 1439.95L1306.36 1439.95L1306.46 1438.79L1307.3 1438.8L1307.4 1439.95L1308.23 1439.95L1308.34 1438.8L1309.16 1438.8L1309.26 1439.95L1310.08 1439.95L1310.18 1438.8L1311 1438.81L1311.1 1439.95L1311.91 1439.95L1312.01 1438.81L1312.81 1438.81L1312.91 1439.95L1313.81 1438.81L1313.91 1439.95L1314.8 1438.82L1314.9 1439.95L1315.78 1438.82L1315.88 1439.95L1316.76 1438.82L1316.86 1439.95L1317.73 1438.82L1317.83 1439.95L1318.69 1438.83L1318.79 1439.95L1319.65 1438.83L1319.74 1439.95L1320.6 1438.83L1320.7 1439.95L1321.54 1438.84L1321.64 1439.95L1322.48 1438.84L1322.58 1439.95L1323.41 1438.84L1323.51 1439.95L1324.34 1438.84L1324.43 1439.95L1325.26 1438.85L1325.35 1439.95L1326.17 1438.85L1326.27 1439.95L1327.08 1438.85L1327.17 1439.95L1327.98 1438.85L1328.07 1439.95L1328.97 1439.95L1329.06 1438.86L1329.95 1438.86L1330.04 1439.95L1330.92 1439.95L1331.01 1438.86L1331.89 1438.86L1331.98 1439.95L1332.85 1439.95L1332.93 1438.87L1333.8 1438.87L1333.89 1439.95L1334.75 1439.95L1334.83 1438.87L1335.69 1438.87L1335.77 1439.95L1336.62 1439.95L1336.7 1438.88L1337.55 1438.88L1337.63 1439.95L1338.47 1439.95L1338.55 1438.88L1339.39 1438.89L1339.47 1439.95L1340.3 1439.95L1340.38 1438.89L1341.2 1438.89L1341.28 1439.95L1342.18 1438.89L1342.26 1439.95L1343.15 1438.9L1343.23 1439.95L1344.12 1438.9L1344.2 1439.95L1345.08 1438.9L1345.16 1439.95L1346.03 1438.9L1346.11 1439.95L1346.98 1438.91L1347.06 1439.95L1347.92 1438.91L1348 1439.95L1348.85 1438.91L1348.93 1439.95L1349.78 1438.91L1349.86 1439.95L1350.71 1438.92L1350.78 1439.95L1351.62 1438.92L1351.7 1439.95L1352.53 1438.92L1352.61 1439.95L1353.44 1438.92L1353.51 1439.95L1354.41 1439.95L1354.49 1438.93L1355.38 1438.93L1355.45 1439.95L1356.34 1439.95L1356.41 1438.93L1357.29 1438.94L1357.37 1439.95L1358.24 1439.95L1358.31 1438.94L1359.18 1438.94L1359.25 1439.95L1360.12 1439.95L1360.19 1438.94L1361.05 1438.95L1361.12 1439.95L1361.97 1439.95L1362.04 1438.95L1362.89 1438.95L1362.96 1439.95L1363.8 1439.95L1363.87 1438.95L1364.7 1438.96L1364.77 1439.95L1365.67 1438.96L1365.74 1439.95L1366.63 1438.96L1366.7 1439.95L1367.59 1438.96L1367.66 1439.95L1368.54 1438.97L1368.6 1439.95L1369.48 1438.97L1369.55 1439.95L1370.42 1438.97L1370.48 1439.95L1371.35 1438.97L1371.41 1439.95L1372.27 1438.98L1372.34 1439.95L1373.19 1438.98L1373.25 1439.95L1374.1 1438.98L1374.17 1439.95L1375.01 1438.98L1375.07 1439.95L1375.91 1438.99L1375.97 1439.95L1376.87 1439.95L1376.93 1438.99L1377.82 1438.99L1377.88 1439.95L1378.77 1439.95L1378.83 1439L1379.71 1439L1379.77 1439.95L1380.64 1439.95L1380.7 1439L1381.57 1439L1381.63 1439.95L1382.49 1439.95L1382.55 1439.01L1383.4 1439.01L1383.46 1439.95L1384.31 1439.95L1384.37 1439.01L1385.22 1439.01L1385.28 1439.95L1386.18 1439.02L1386.23 1439.95L1387.13 1439.02L1387.19 1439.95L1388.07 1439.02L1388.13 1439.95L1389.01 1439.02L1389.07 1439.95L1389.94 1439.03L1390 1439.95L1390.87 1439.03L1390.93 1439.95L1391.79 1439.03L1391.85 1439.95L1392.7 1439.03L1392.76 1439.95L1393.61 1439.04L1393.67 1439.95L1394.52 1439.04L1394.57 1439.95L1395.47 1439.95L1395.52 1439.04L1396.42 1439.04L1396.47 1439.95L1397.36 1439.95L1397.41 1439.05L1398.29 1439.05L1398.34 1439.95L1399.22 1439.95L1399.27 1439.05L1400.14 1439.05L1400.19 1439.95L1401.06 1439.95L1401.11 1439.06L1401.97 1439.06L1402.02 1439.95L1402.87 1439.95L1402.92 1439.06L1403.82 1439.95L1403.87 1439.07L1404.77 1439.95L1404.82 1439.07L1405.71 1439.95L1405.76 1439.07L1406.64 1439.95L1406.69 1439.07L1407.56 1439.95L1407.62 1439.08L1408.48 1439.95L1408.54 1439.08L1409.4 1439.95L1409.45 1439.08L1410.31 1439.95L1410.36 1439.08L1411.21 1439.95L1411.26 1439.09L1412.16 1439.09L1412.21 1439.95L1413.1 1439.95L1413.15 1439.09L1414.03 1439.09L1414.08 1439.95L1414.96 1439.95L1415.01 1439.1L1415.88 1439.1L1415.93 1439.95L1416.8 1439.95L1416.85 1439.1L1417.71 1439.1L1417.76 1439.95L1418.61 1439.95L1418.66 1439.11L1419.56 1439.95L1419.61 1439.11L1420.5 1439.95L1420.55 1439.11L1421.43 1439.95L1421.48 1439.11L1422.36 1439.95L1422.41 1439.12L1423.28 1439.95L1423.33 1439.12L1424.2 1439.95L1424.24 1439.12L1425.11 1439.95L1425.15 1439.12L1426.01 1439.95L1426.05 1439.13L1426.95 1439.13L1427 1439.95L1427.89 1439.95L1427.93 1439.13L1428.82 1439.13L1428.86 1439.95L1429.74 1439.95L1429.79 1439.14L1430.66 1439.14L1430.71 1439.95L1431.57 1439.95L1431.62 1439.14L1432.48 1439.14L1432.52 1439.95L1433.38 1439.95L1433.42 1439.15L1434.32 1439.95L1434.36 1439.15L1435.25 1439.95L1435.29 1439.15L1436.18 1439.95L1436.22 1439.16L1437.1 1439.95L1437.14 1439.16L1438.01 1439.95L1438.05 1439.16L1438.92 1439.95L1438.96 1439.16L1439.82 1439.95L1439.86 1439.17L1440.75 1439.17L1440.8 1439.95L1441.69 1439.95L1441.73 1439.17L1442.61 1439.17L1442.65 1439.95L1443.53 1439.95L1443.57 1439.18L1444.44 1439.18L1444.48 1439.95L1445.35 1439.95L1445.39 1439.18L1446.25 1439.18L1446.29 1439.95L1447.18 1439.19L1447.22 1439.95L1448.11 1439.19L1448.15 1439.95L1449.03 1439.19L1449.07 1439.95L1449.95 1439.19L1449.99 1439.95L1450.86 1439.2L1450.9 1439.95L1451.76 1439.2L1451.8 1439.95L1452.7 1439.95L1452.74 1439.2L1453.63 1439.2L1453.67 1439.95L1454.55 1439.95L1454.59 1439.21L1455.47 1439.21L1455.51 1439.95L1456.38 1439.95L1456.42 1439.21L1457.29 1439.21L1457.32 1439.95L1458.19 1439.95L1458.22 1439.22L1459.12 1439.95L1459.15 1439.22L1460.04 1439.95L1460.08 1439.22L1460.96 1439.95L1461 1439.22L1461.87 1439.95L1461.91 1439.23L1462.78 1439.95L1462.81 1439.23L1463.68 1439.95L1463.71 1439.23L1464.61 1439.23L1464.64 1439.95L1465.53 1439.95L1465.57 1439.24L1466.45 1439.24L1466.48 1439.95L1467.36 1439.95L1467.39 1439.24L1468.27 1439.24L1468.3 1439.95L1469.2 1439.25L1469.23 1439.95L1470.13 1439.25L1470.16 1439.95L1471.05 1439.25L1471.08 1439.95L1471.96 1439.26L1471.99 1439.95L1472.87 1439.26L1472.9 1439.95L1473.77 1439.26L1473.81 1439.95L1474.7 1439.95L1474.74 1439.26L1475.63 1439.27L1475.66 1439.95L1476.54 1439.95L1476.58 1439.27L1477.46 1439.27L1477.49 1439.95L1478.36 1439.95L1478.39 1439.27L1479.29 1439.95L1479.32 1439.28L1480.22 1439.95L1480.25 1439.28L1481.14 1439.95L1481.17 1439.28L1482.05 1439.95L1482.08 1439.28L1482.96 1439.95L1482.99 1439.29L1483.86 1439.95L1483.89 1439.29L1484.78 1439.29L1484.81 1439.95L1485.7 1439.95L1485.73 1439.29L1486.62 1439.3L1486.65 1439.95L1487.52 1439.95L1487.55 1439.3L1488.43 1439.3L1488.45 1439.95L1489.35 1439.3L1489.38 1439.95L1490.27 1439.31L1490.3 1439.95L1491.18 1439.31L1491.21 1439.95L1491.64 1439.95"/>
<rect class="sp" x="224" y="1001" width="1328" height="439"/>
</g>
<g id="labels">
<text><tspan class="t" x="175.01" y="538.97">0</tspan></text>
<text><tspan class="t" x="175.01" y="356.17">5</tspan></text>
<text><tspan class="t" x="142.08 174.76" y="174.38">10</tspan></text>
<text transform="rotate(-90)"><tspan class="t i" x="-354.95" y="119.9">f</tspan><tspan class="t" x="-336.92" y="119.9">(</tspan><tspan class="t i" x="-316" y="119.9">k</tspan><tspan class="s i" x="-284.98" y="127.65">x</tspan><tspan class="t" x="-260.93" y="119.9">)</tspan></text>
<text><tspan class="t i" x="1265.01" y="190.26">B</tspan><tspan class="t" x="1301.01 1311.99 1356.01 1367.07 1401 1417.95" y="190.26"> = 0 T</tspan></text>
<text><tspan class="t" x="175.01" y="999.61">0</tspan></text>
<text><tspan class="t" x="175.01" y="816.82">5</tspan></text>
<text><tspan class="t" x="142.08 174.76" y="634.02">10</tspan></text>
<text transform="rotate(-90)"><tspan class="t i" x="-816.1" y="119.9">f</tspan><tspan class="t" x="-798.07" y="119.9">(</tspan><tspan class="t i" x="-777.02" y="119.9">k</tspan><tspan class="s i" x="-745.88" y="127.65">x</tspan><tspan class="t" x="-722.08" y="119.9">)</tspan></text>
<text><tspan class="t i" x="1265.01" y="649.9">B</tspan><tspan class="t" x="1301.01 1311.99 1356.01 1367.07 1401 1434.93 1451.88" y="649.9"> = 20 T</tspan></text>
<text><tspan class="t" x="175.01" y="1460.26">0</tspan></text>
<text><tspan class="t" x="175.01" y="1277.46">5</tspan></text>
<text><tspan class="t" x="142.08 174.76" y="1094.67">10</tspan></text>
<text transform="rotate(-90)"><tspan class="t i" x="-1277" y="119.9">f</tspan><tspan class="t" x="-1258.97" y="119.9">(</tspan><tspan class="t i" x="-1237.92" y="119.9">k</tspan><tspan class="s i" x="-1206.9" y="127.65">x</tspan><tspan class="t" x="-1182.98" y="119.9">)</tspan></text>
<text><tspan class="t i" x="1265.01" y="1110.55">B</tspan><tspan class="t" x="1301.01 1311.99 1356.01 1367.07 1401 1434.93 1468.86 1485.07" y="1110.55"> = 100 T</tspan></text>
<text><tspan class="t" x="223.95 256.88" y="1497.32">10</tspan><tspan class="s" x="292.07 323.1" y="1476.9">−2</tspan></text>
<text><tspan class="t" x="551.08 584.01" y="1495.83">10</tspan><tspan class="s" x="618.95 649.98" y="1476.41">−1</tspan></text>
<text><tspan class="t" x="891.94 925.12" y="1497.32">10</tspan><tspan class="s" x="960.07" y="1476.9">0</tspan></text>
<text><tspan class="t" x="1219.07 1252" y="1495.83">10</tspan><tspan class="s" x="1286.95" y="1476.41">1</tspan></text>
<text><tspan class="t i" x="818.98" y="1559.89">k</tspan><tspan class="s i" x="849.12" y="1567.64">x</tspan><tspan class="t" x="873.17 888.94" y="1559.89">/2</tspan><tspan class="t i" x="923.12" y="1559.89">π</tspan></text>
</g>
</svg>
</body></html>
